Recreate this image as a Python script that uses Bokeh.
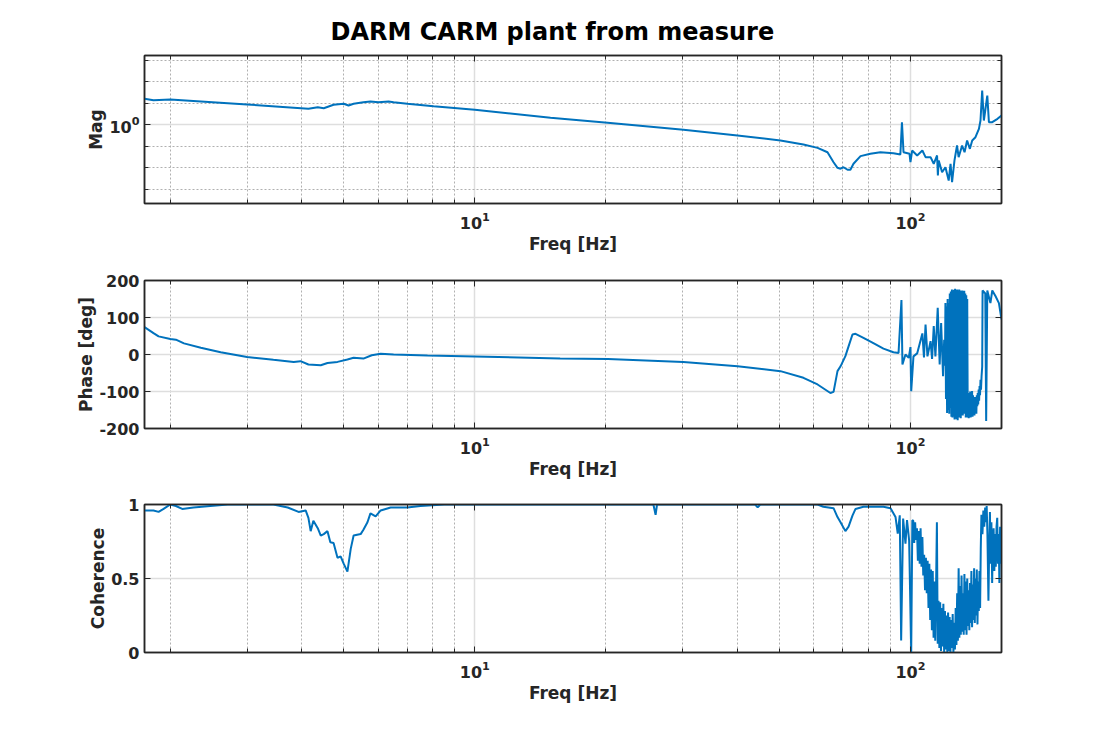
from bokeh.plotting import figure
from bokeh.models import (Range1d, FixedTicker, LogAxis, LinearAxis, LogTickFormatter,
                          CustomJSTickFormatter, Title)
from bokeh.layouts import column
from bokeh.embed import file_html
from bokeh.resources import INLINE

FONT = "DejaVu Sans"
INK = "#262626"
BLUE = "#0072BD"

# frequency axis (Hz), shared by the three panels
freq_lim = (1.745, 161.8)
freq_ticks = [10, 100]
freq_minor = [2, 3, 4, 5, 6, 7, 8, 9, 20, 30, 40, 50, 60, 70, 80, 90]

# magnitude
mag_lim = (0.432, 2.094)
mag_ticks = [1]
mag_minor = [0.501, 0.631, 0.794, 1.259, 1.585, 1.995]
mag_freq = [1.745, 1.83, 2.0, 3.0, 3.84, 4.15, 4.36, 4.5, 4.74, 5.0,
            5.13, 5.27, 5.55, 5.76, 6.01, 6.34, 6.51, 7.0, 8.04, 10.0,
            14.92, 20.17, 30.13, 40.08, 50.3, 56.8, 61.2, 64.5, 66.6, 68.0,
            69.1, 70.2, 71.7, 72.8, 74.0, 76.8, 80.9, 85.3, 91.4, 94.8,
            95.6, 96.4, 99.5, 100.0, 100.9, 103.6, 106.5, 108.3, 111.2, 113.1,
            115.1, 115.6, 116.1, 118.2, 120.3, 122.4, 123.6, 124.6, 126.2, 127.9,
            129.0, 131.4, 133.1, 134.9, 136.9, 138.6, 141.0, 143.6, 144.8, 146.1,
            147.4, 150.1, 151.4, 154.1, 158.4, 161.8]
mag_vals = [1.319, 1.300, 1.310, 1.242, 1.199, 1.186, 1.206, 1.193, 1.238, 1.251,
            1.228, 1.251, 1.272, 1.282, 1.272, 1.282, 1.272, 1.251, 1.219, 1.173,
            1.077, 1.022, 0.948, 0.892, 0.846, 0.810, 0.782, 0.746, 0.671, 0.632,
            0.626, 0.636, 0.619, 0.619, 0.660, 0.716, 0.734, 0.746, 0.739, 0.729,
            1.028, 0.746, 0.734, 0.671, 0.760, 0.721, 0.760, 0.708, 0.708, 0.660,
            0.721, 0.582, 0.684, 0.603, 0.636, 0.552, 0.660, 0.542, 0.684, 0.802,
            0.708, 0.802, 0.746, 0.846, 0.774, 0.846, 0.876, 0.958, 1.047, 1.441,
            1.047, 1.366, 1.028, 1.028, 1.066, 1.104]

# phase
phase_lim = (-200, 200)
phase_ticks = [-200, -100, 0, 100, 200]
phase_freq = [1.745, 1.83, 1.88, 2.0, 2.06, 2.15, 2.35, 2.61, 3.0, 3.45,
              3.84, 3.98, 4.15, 4.43, 4.59, 4.84, 5.10, 5.27, 5.55, 5.8,
              6.08, 6.51, 7.79, 10.0, 15.7, 20.2, 30.1, 40.1, 50.3, 56.8,
              61.2, 65.5, 66.6, 68.0, 69.1, 70.9, 72.1, 73.6, 74.8, 78.0,
              82.2, 86.7, 91.4, 93.9, 95.35, 95.85, 97.4, 99.1, 100.0, 100.4,
              101.6, 103.6, 106.5, 107.4, 108.3, 109.4, 111.2, 112.1, 113.1, 114.1,
              115.5, 116.7, 117.6, 118.8, 119.5, 120.0,
              120.3, 120.65, 121.0, 121.35, 121.7, 122.05, 122.4, 122.75, 123.1, 123.45,
              123.8, 124.15, 124.5, 124.85, 125.2, 125.55, 125.9, 126.25, 126.6, 126.95,
              127.3, 127.65, 128.0, 128.35, 128.7, 129.05, 129.4, 129.75, 130.1, 130.45,
              130.8, 131.15, 131.5, 131.85, 132.2, 132.55, 132.9, 133.25, 133.6, 133.95,
              134.3, 134.65, 135.0, 135.35,
              135.7, 136.05, 136.4, 136.75, 137.1, 137.45, 137.8, 138.15, 138.5, 138.85,
              139.2, 139.55, 139.9, 140.25, 140.6, 140.95, 141.3, 141.65, 142.0, 142.35,
              142.7, 143.05, 143.4, 143.75, 144.1, 144.45, 144.8, 145.2, 145.6, 146.1,
              146.4, 148.5, 149.2, 150.1, 152.6, 154.1, 156.7, 159.6, 161.8]
phase_vals = [74, 58, 49, 42, 40, 30, 18, 6, -7, -14.5,
              -20, -18, -27, -29, -23, -20, -13.5, -9, -11, -2,
              2, 0, -3, -5.5, -11, -12, -20, -32, -45, -63,
              -81, -104, -101, -45, -32, -4.5, 22, 54, 56, 45,
              31, 16, 6, 4, 147, -27, 0, -9, 20, -99,
              -5, 3, 57, -8, 81, -5, 36, -12, 77, -5,
              126, -27, 85, -59, 40, -30,
              139, -120, 130, -158, 150, -150, 139, -160, 165, -144,
              170, -168, 176, -170, 172, -167, 175, -176, 178, -172,
              174, -175, 176, -178, 172, -170, 176, -167, 173, -172,
              170, -160, 173, -165, 168, -149, 172, -160, 165, -170,
              160, -165, 150, -170,
              -104, -172, -110, -165, -100, -170, -105, -160, -99, -168,
              -110, -150, -120, -165, -115, -150, -125, -160, -110, -140,
              -104, -135, -95, -125, -85, -110, -68, -95, -60, -33,
              173, 165, -180, 173, 139, 173, 158, 139, 95]

# coherence
coh_lim = (0, 1)
coh_ticks = [0, 0.5, 1]
coh_freq = [1.745, 1.83, 1.88, 1.93, 2.0, 2.06, 2.13, 2.26, 2.47, 2.71,
            3.45, 3.72, 3.94, 4.09, 4.15, 4.20, 4.26, 4.36, 4.43, 4.50,
            4.59, 4.66, 4.74, 4.84, 4.92, 5.0, 5.10, 5.19, 5.27, 5.47,
            5.55, 5.67, 5.76, 5.92, 6.08, 6.41, 7.0, 7.5, 8.5, 25.7,
            26.0, 26.2, 44.0, 44.6, 45.2, 61.2, 63.1, 66.6, 68.0, 69.1,
            70.9, 72.1, 73.6, 74.8, 78.0, 86.7, 90.0,
            92.4, 93.5, 94.5, 95.2, 96.2, 97.4, 98.2, 99.3, 100.4, 101.0,
            101.5, 102.0, 102.5, 103.0, 103.5, 104.0, 104.5, 105.0, 105.5, 106.0,
            106.5, 107.0, 107.5, 108.0, 108.5, 109.0, 109.5, 110.0, 110.5, 111.0,
            111.5, 112.0, 112.5, 113.0, 113.5, 114.0, 114.5, 115.0, 115.5, 116.0,
            116.5, 117.0, 117.5, 118.0, 118.5, 119.0, 119.5, 120.0, 120.5, 121.0,
            121.5, 122.0, 122.5, 123.0, 123.5, 124.0, 124.5, 125.0, 125.5, 126.0,
            126.5, 127.0, 127.5, 128.0, 128.5, 129.0, 129.5, 130.0, 130.5, 131.0,
            131.5, 132.0, 132.5, 133.0, 133.5, 134.0, 134.5, 135.0, 135.5, 136.0,
            136.5, 137.0, 137.5, 138.0, 138.5, 139.0, 139.5, 140.0, 140.5, 141.0,
            141.5, 142.0, 142.5, 143.0, 143.5, 144.0, 144.5, 145.0, 145.5,
            146.3, 147.0, 147.7, 148.4, 149.0, 149.6, 150.2, 151.0, 151.6, 152.2,
            152.8, 153.4, 154.0, 154.6, 155.2, 155.8, 156.4, 157.0, 157.6, 158.2,
            158.8, 159.4, 160.0, 160.6, 161.2, 161.8]
coh_vals = [0.96, 0.96, 0.95, 0.97, 1.0, 0.99, 0.97, 0.98, 0.99, 1.0,
            1.0, 0.98, 0.95, 0.96, 0.91, 0.82, 0.89, 0.84, 0.79, 0.80,
            0.82, 0.745, 0.74, 0.64, 0.65, 0.60, 0.546, 0.70, 0.79, 0.80,
            0.83, 0.88, 0.94, 0.92, 0.96, 0.98, 0.98, 0.99, 1.0, 1.0,
            0.93, 1.0, 1.0, 0.98, 1.0, 1.0, 0.985, 0.975, 0.915, 0.88,
            0.82, 0.85, 0.925, 0.97, 0.985, 0.985, 0.975,
            0.916, 0.803, 0.927, 0.081, 0.905, 0.736, 0.894, 0.758, 0.002, 0.894,
            0.89, 0.74, 0.88, 0.76, 0.84, 0.62, 0.82, 0.60, 0.84, 0.58,
            0.78, 0.52, 0.66, 0.42, 0.64, 0.40, 0.62, 0.30, 0.60, 0.22,
            0.56, 0.15, 0.55, 0.10, 0.48, 0.08, 0.45, 0.88, 0.06, 0.35,
            0.03, 0.34, 0.01, 0.30, 0.04, 0.33, 0.00, 0.28, 0.02, 0.25,
            0.00, 0.27, 0.01, 0.24, 0.00, 0.22, 0.03, 0.26, 0.00, 0.20,
            0.02, 0.30, 0.05, 0.40, 0.08, 0.57, 0.10, 0.45, 0.12, 0.52,
            0.14, 0.40, 0.12, 0.53, 0.15, 0.48, 0.12, 0.50, 0.18, 0.42,
            0.15, 0.47, 0.20, 0.55, 0.17, 0.46, 0.22, 0.57, 0.20, 0.50,
            0.25, 0.56, 0.19, 0.48, 0.28, 0.55, 0.30, 0.70, 0.93,
            0.80, 0.96, 0.85, 0.98, 0.88, 0.99, 0.80, 0.35, 0.70, 0.95,
            0.60, 0.88, 0.47, 0.75, 0.84, 0.55, 0.80, 0.58, 0.85, 0.91,
            0.60, 0.80, 0.47, 0.85, 0.60, 0.67]

assert len(mag_freq) == len(mag_vals)
assert len(phase_freq) == len(phase_vals)
assert len(coh_freq) == len(coh_vals)


def style_axis(ax, labels=True, label_standoff=7, title_standoff=4):
    ax.axis_line_color = INK
    ax.axis_line_width = 1.5
    ax.major_tick_line_color = INK
    ax.minor_tick_line_color = INK
    ax.major_tick_in = 6
    ax.major_tick_out = 0
    ax.minor_tick_in = 4
    ax.minor_tick_out = 0
    ax.major_label_text_font = FONT
    ax.major_label_text_font_style = "bold"
    ax.major_label_text_font_size = "16px"
    ax.major_label_text_color = INK
    ax.major_label_standoff = label_standoff
    ax.axis_label_text_font = FONT
    ax.axis_label_text_font_style = "bold"
    ax.axis_label_text_font_size = "17px"
    ax.axis_label_text_color = INK
    ax.axis_label_standoff = title_standoff
    if not labels:
        ax.formatter = CustomJSTickFormatter(code="return ''")


def panel(ylabel, y_lim, y_log, y_ticks, y_minor, border_top, border_bottom):
    p = figure(x_axis_type="log", y_axis_type="log" if y_log else "linear",
               x_range=Range1d(*freq_lim), y_range=Range1d(*y_lim),
               frame_width=857, frame_height=148,
               min_border_left=144, min_border_right=97,
               min_border_top=border_top, min_border_bottom=border_bottom,
               title=None, output_backend="svg", toolbar_location=None)
    p.outline_line_color = INK
    p.outline_line_width = 1.5

    xticker = FixedTicker(ticks=freq_ticks, minor_ticks=freq_minor)
    yticker = FixedTicker(ticks=y_ticks, minor_ticks=y_minor)

    p.xaxis.ticker = xticker
    p.xaxis.formatter = LogTickFormatter()
    p.xaxis.axis_label = "Freq [Hz]"
    p.yaxis.ticker = yticker
    p.yaxis.axis_label = ylabel
    if y_log:
        p.yaxis.formatter = LogTickFormatter()
    else:
        p.yaxis.major_label_overrides = {t: "%g" % t for t in y_ticks}
    style_axis(p.xaxis[0], label_standoff=8, title_standoff=2)
    style_axis(p.yaxis[0], label_standoff=5, title_standoff=0)

    top = LogAxis(ticker=xticker)
    style_axis(top, labels=False)
    p.add_layout(top, "above")
    right = (LogAxis if y_log else LinearAxis)(ticker=yticker)
    style_axis(right, labels=False)
    p.add_layout(right, "right")

    p.xgrid.ticker = xticker
    p.ygrid.ticker = yticker
    for g in (p.xgrid[0], p.ygrid[0]):
        g.grid_line_color = "#dedede"
        g.grid_line_width = 1.5
        g.minor_grid_line_color = "#b0b0b0"
        g.minor_grid_line_width = 1
        g.minor_grid_line_dash = "2 2"
    if not y_minor:
        p.ygrid.minor_grid_line_color = None
    return p


p1 = panel("Mag", mag_lim, True, mag_ticks, mag_minor, 55, 52)
p1.line(mag_freq, mag_vals, line_color=BLUE, line_width=2)
# the title is centred on the page, a little left of the axes centre
p1.add_layout(Title(text="DARM CARM plant from measure", align="left", offset=186,
                    text_font=FONT, text_font_style="bold", text_font_size="24px",
                    text_color="#000000", standoff=20), "above")

p2 = panel("Phase [deg]", phase_lim, False, phase_ticks, [], 24, 52)
p2.line(phase_freq, phase_vals, line_color=BLUE, line_width=2)

p3 = panel("Coherence", coh_lim, False, coh_ticks, [], 23, 60)
p3.line(coh_freq, coh_vals, line_color=BLUE, line_width=2)

layout = column(p1, p2, p3, spacing=0)

open("out.html", "w").write(file_html(layout, INLINE, "DARM CARM plant from measure"))
